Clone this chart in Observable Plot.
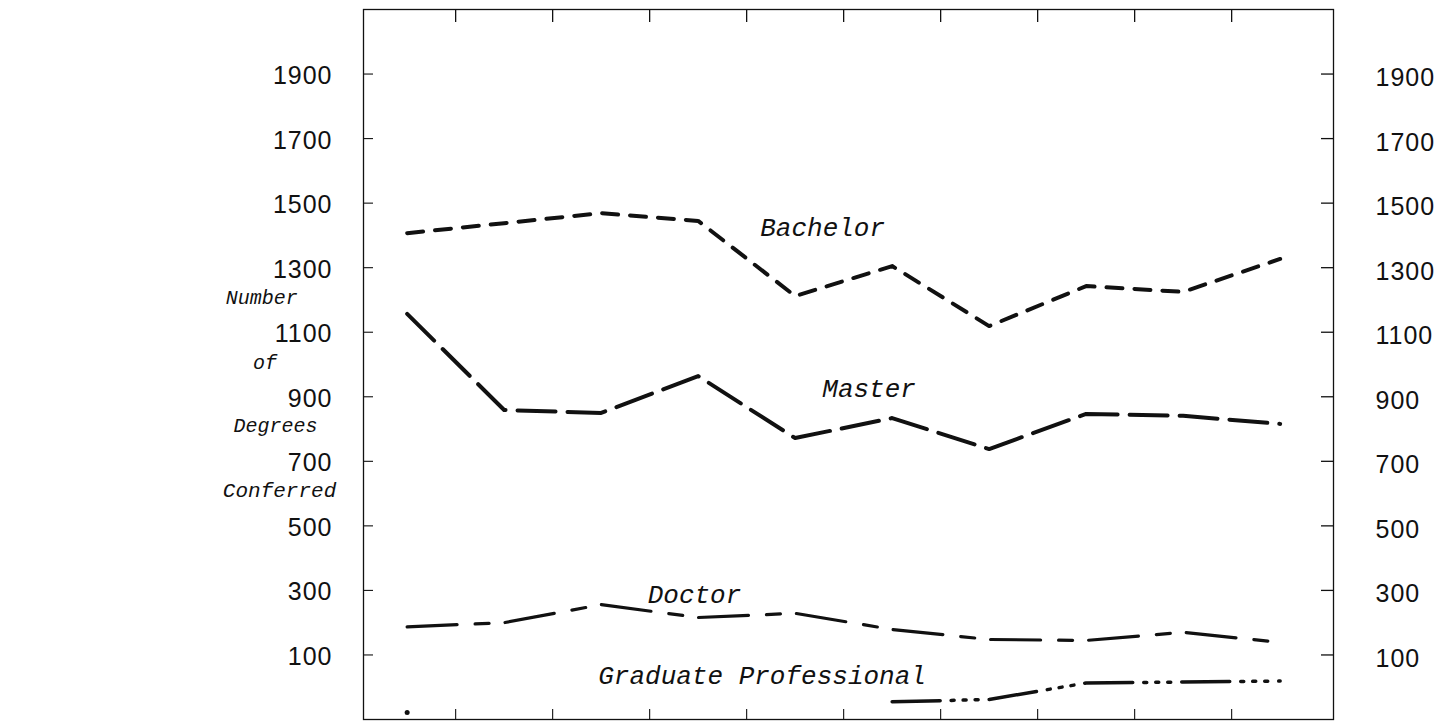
<!DOCTYPE html>
<html><head><meta charset="utf-8">
<script src="https://cdn.jsdelivr.net/npm/d3@7"></script>
<script src="https://cdn.jsdelivr.net/npm/@observablehq/plot@0.6"></script>
<style>
html,body{margin:0;padding:0;background:#fff}
svg{display:block}
g[aria-label="y-axis tick label"] text{letter-spacing:1px}
</style>
</head><body><div id="chart"></div>
<script>
// ten reporting periods (no labels printed on the original)
const periods = [0, 1, 2, 3, 4, 5, 6, 7, 8, 9];
const yTickValues = [100, 300, 500, 700, 900, 1100, 1300, 1500, 1700, 1900];

const bachelor = [1407, 1438, 1469, 1445, 1212, 1305, 1119, 1243, 1225, 1327];
const master   = [1157, 859, 850, 964, 772, 834, 738, 847, 841, 816];
const doctor   = [187, 200, 256, 216, 229, 179, 148, 145, 170, 139];
const gradProf = [null, null, null, null, null, -45, -38, 13, 16, 19];

const seriesNames = ["Bachelor", "Master", "Doctor", "Graduate Professional"];
const yTitleLines = ["Number", "of", "Degrees", "Conferred"];

const toRows = vals => periods.map((p, i) => ({x: p, y: vals[i]})).filter(d => d.y != null);
const boundaries = periods.slice(1).map(p => p - 0.5);

const ink = "#111";
const monoItalic = {fontFamily: "Liberation Mono", fontStyle: "italic", fill: ink};

const chart = Plot.plot({
  width: 1450,
  height: 723,
  marginLeft: 363,
  marginRight: 117,
  marginTop: 9,
  marginBottom: 4,
  style: {fontFamily: "Liberation Sans", background: "#fff", color: ink},
  x: {domain: [-0.45, 9.55], axis: null},
  y: {domain: [-100, 2100], axis: null},
  marks: [
    Plot.frame({stroke: ink, strokeWidth: 1.3}),
    // inward ticks
    Plot.axisX({anchor: "top", ticks: boundaries, tickSize: -12, tickFormat: () => "", stroke: ink, strokeWidth: 1.3, label: null}),
    Plot.axisX({anchor: "bottom", ticks: boundaries, tickSize: -10, tickFormat: () => "", stroke: ink, strokeWidth: 1.1, label: null}),
    Plot.axisY({anchor: "left", ticks: yTickValues, tickSize: -10, tickFormat: () => "", stroke: ink, strokeWidth: 1.1, label: null}),
    Plot.axisY({anchor: "right", ticks: yTickValues, tickSize: -13, tickFormat: () => "", stroke: ink, strokeWidth: 1.3, label: null}),
    // tick labels
    Plot.axisY({anchor: "left", ticks: yTickValues, tickSize: 0, tickPadding: 31, tickFormat: d => String(d), fontSize: 25, fill: ink, label: null, dy: 2}),
    Plot.axisY({anchor: "right", ticks: yTickValues, tickSize: 0, tickPadding: 42, tickFormat: d => String(d), fontSize: 25, fill: ink, label: null, dy: 4}),
    // series lines
    Plot.line(toRows(bachelor), {x: "x", y: "y", stroke: ink, strokeWidth: 4, strokeDasharray: "16 12"}),
    Plot.line(toRows(master), {x: "x", y: "y", stroke: ink, strokeWidth: 4, strokeDasharray: "38 12"}),
    Plot.line(toRows(doctor), {x: "x", y: "y", stroke: ink, strokeWidth: 3.2, strokeDasharray: "50 18 14 16"}),
    Plot.line(toRows(gradProf), {x: "x", y: "y", stroke: ink, strokeWidth: 3.5, strokeDasharray: "48 11 3 9 3 9 3 11"}),
    // stray mark near the bottom-left
    Plot.dot([{x: periods[0], y: -78}], {x: "x", y: "y", r: 2.5, fill: ink, stroke: null}),
    // series labels
    Plot.text([seriesNames[0]], {x: 3.64, y: 1424, text: d => d, textAnchor: "start", fontSize: 26, ...monoItalic}),
    Plot.text([seriesNames[1]], {x: 4.28, y: 925, text: d => d, textAnchor: "start", fontSize: 26, ...monoItalic}),
    Plot.text([seriesNames[2]], {x: 2.48, y: 287, text: d => d, textAnchor: "start", fontSize: 26, ...monoItalic}),
    Plot.text([seriesNames[3]], {x: 1.97, y: 36, text: d => d, textAnchor: "start", fontSize: 26, ...monoItalic}),
    // y title, four lines
    Plot.text([yTitleLines[0]], {x: -1.87, y: 1208, text: d => d, textAnchor: "start", fontSize: 20, ...monoItalic}),
    Plot.text([yTitleLines[1]], {x: -1.59, y: 1006, text: d => d, textAnchor: "start", fontSize: 20, ...monoItalic}),
    Plot.text([yTitleLines[2]], {x: -1.79, y: 811, text: d => d, textAnchor: "start", fontSize: 20, ...monoItalic}),
    Plot.text([yTitleLines[3]], {x: -1.90, y: 610, text: d => d, textAnchor: "start", fontSize: 21, ...monoItalic})
  ]
});
document.getElementById("chart").appendChild(chart);
</script>
</body></html>
